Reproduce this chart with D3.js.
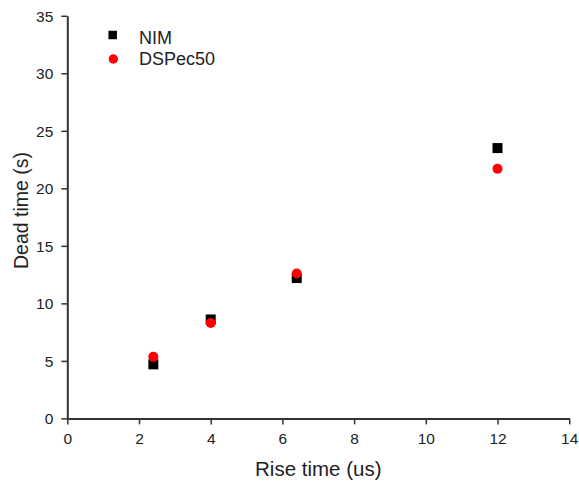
<!DOCTYPE html>
<html>
<head>
<meta charset="utf-8">
<script src="https://cdn.jsdelivr.net/npm/d3@7"></script>
<style>
  html, body { margin: 0; padding: 0; background: #fff; }
  svg { display: block; font-family: "Liberation Sans", Arial, sans-serif; }
</style>
</head>
<body>
<svg id="chart" width="579" height="484"></svg>
<script>
// Rise time settings (us)
const riseTimes = [2.4, 4, 6.4, 12];
// Measured dead time (s) for each electronics chain
const nimDead = [4.7, 8.6, 12.2, 23.5];
const dspecDead = [5.35, 8.3, 12.6, 21.7];
const seriesNames = ["NIM", "DSPec50"];
const xTicks = [0, 2, 4, 6, 8, 10, 12, 14];
const yTicks = [0, 5, 10, 15, 20, 25, 30, 35];

const svg = d3.select("#chart");
const x = d3.scaleLinear().domain([0, 14]).range([67.3, 569.2]);
const y = d3.scaleLinear().domain([0, 35]).range([418.4, 15.8]);

const axisColor = "#333";

// minor ticks at the midpoints between major ticks
const xMinor = d3.range(1, 14, 2);
const yMinor = d3.range(2.5, 35, 5);

const gx = svg.append("g").attr("transform", `translate(0,${y(0)})`);
gx.call(d3.axisBottom(x).tickValues(xMinor).tickSize(3).tickSizeOuter(0).tickFormat(""));
gx.call(d3.axisBottom(x).tickValues(xTicks).tickSize(6).tickSizeOuter(0).tickPadding(9));

const gy = svg.append("g").attr("transform", `translate(${x(0)},0)`);
gy.call(d3.axisLeft(y).tickValues(yMinor).tickSize(3).tickSizeOuter(0).tickFormat(""));
gy.call(d3.axisLeft(y).tickValues(yTicks).tickSize(6).tickSizeOuter(0).tickPadding(8));

svg.selectAll(".domain").attr("stroke", axisColor).attr("stroke-width", 2);
svg.selectAll(".tick line").attr("stroke", axisColor).attr("stroke-width", 1.5);
svg.selectAll(".tick text")
  .attr("fill", "#222")
  .style("font-size", "15.5px")
  .style("font-family", "'Liberation Sans', Arial, sans-serif");
gy.selectAll(".tick text").attr("dy", "0.36em");

// axis titles
svg.append("text")
  .attr("x", (x(0) + x(14)) / 2)
  .attr("y", 475.5)
  .attr("text-anchor", "middle")
  .attr("fill", "#222")
  .style("font-size", "20.5px")
  .text("Rise time (us)");

svg.append("text")
  .attr("transform", "translate(28,210.5) rotate(-90)")
  .attr("text-anchor", "middle")
  .attr("fill", "#222")
  .style("font-size", "19.5px")
  .text("Dead time (s)");

// data markers
const sq = 10;
svg.append("g").selectAll("rect")
  .data(riseTimes.map((t, i) => [t, nimDead[i]]))
  .join("rect")
  .attr("x", d => x(d[0]) - sq / 2)
  .attr("y", d => y(d[1]) - sq / 2)
  .attr("width", sq)
  .attr("height", sq)
  .attr("fill", "#000");

svg.append("g").selectAll("circle")
  .data(riseTimes.map((t, i) => [t, dspecDead[i]]))
  .join("circle")
  .attr("cx", d => x(d[0]))
  .attr("cy", d => y(d[1]))
  .attr("r", 5)
  .attr("fill", "#ff0000");

// legend
const legend = svg.append("g");
legend.append("rect")
  .attr("x", 112.7 - 4.25).attr("y", 35 - 4.25)
  .attr("width", 8.5).attr("height", 8.5).attr("fill", "#000");
legend.append("circle")
  .attr("cx", 113.3).attr("cy", 59).attr("r", 4.7).attr("fill", "#ff0000");
legend.selectAll("text")
  .data(seriesNames)
  .join("text")
  .attr("x", 139)
  .attr("y", (d, i) => 43.5 + i * 21.7)
  .attr("fill", "#222")
  .style("font-size", "18px")
  .text(d => d);
</script>
</body>
</html>
